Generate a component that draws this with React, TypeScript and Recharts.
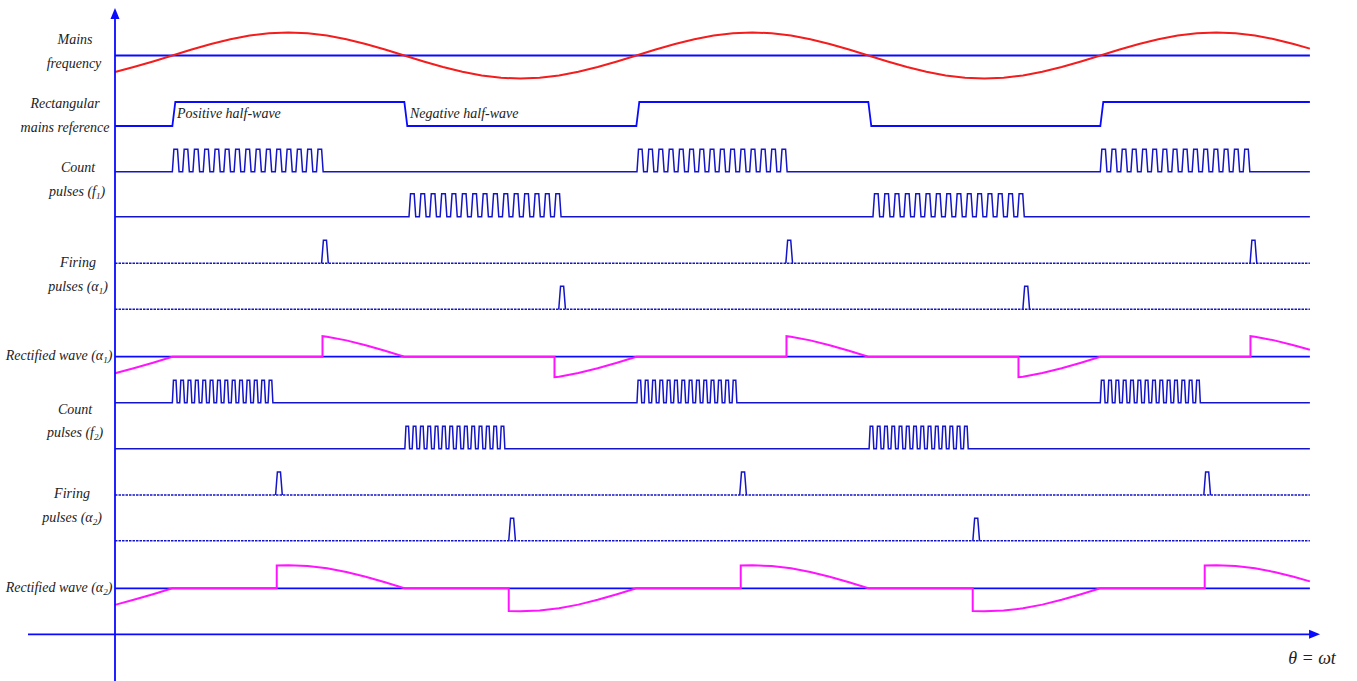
import { LineChart, Line, XAxis, YAxis, ReferenceDot } from "recharts";

// θ in degrees, 0 = first rising zero crossing of the mains
const viewStart = -44.5;
const viewEnd = 882.6;

// mains wave, normalised, read every 15° over one cycle
const mainsCycle = [
  0, 0.26, 0.5, 0.71, 0.87, 0.97, 1, 0.97, 0.87, 0.71, 0.5, 0.26,
  0, -0.26, -0.5, -0.71, -0.87, -0.97, -1, -0.97, -0.87, -0.71, -0.5, -0.26,
];
const mainsAtStart = -0.72;
const mainsAtEnd = 0.3;

// rectangular mains reference switches at the zero crossings
const halfWaveEdges = [0, 180, 360, 540, 720];

// count pulse bursts [from, to] in degrees
const f1BurstsPos = [[0, 117], [360.5, 477], [720, 836]];
const f1BurstsNeg = [[183.6, 301.6], [543.6, 661]];
const f1PulseCount = 15;
const f2BurstsPos = [[0, 78], [360.5, 438], [720, 797.6]];
const f2BurstsNeg = [[180.4, 258], [540.6, 617.5]];
const f2PulseCount = 14;

// firing pulse centres in degrees
const alpha1FiringPos = [118.4, 478.6, 838.8];
const alpha1FiringNeg = [302.4, 662.5];
const alpha2FiringPos = [82.7, 442.8, 802.9];
const alpha2FiringNeg = [263.6, 623.7];

// firing angles of the rectified waves and the jump at firing (normalised)
const alpha1 = 116.5;
const alpha1Jump = 0.89;
const alpha2 = 81;
const alpha2Jump = 0.99;

// layout: pixel rows of each trace (y axis runs in page pixels)
const rows = {
  mains: { base: 55.5, amp: 23 },
  rect: { low: 126, high: 102 },
  f1Pos: { base: 171.7, amp: 22.5 },
  f1Neg: { base: 216.8, amp: 23 },
  a1Pos: { base: 263.3, amp: 23 },
  a1Neg: { base: 309.3, amp: 23 },
  rect1: { base: 356.7, amp: 23 },
  f2Pos: { base: 402.7, amp: 22.5 },
  f2Neg: { base: 448.8, amp: 22.5 },
  a2Pos: { base: 495, amp: 23 },
  a2Neg: { base: 540.7, amp: 22.5 },
  rect2: { base: 588.3, amp: 23 },
  axis: 634.3,
};

const BLUE = "#0a0aff";
const NAVY = "#1414c8";
const RED = "#f41c1c";
const MAGENTA = "#ff14ff";

type Pt = { x: number; y: number };
type Pair = [number, number];

const toPts = (pairs: Pair[], base: number, amp: number): Pt[] =>
  pairs.map(([t, v]) => ({ x: t, y: base - amp * v }));

function mainsSamples(): Pair[] {
  const out: Pair[] = [[viewStart, mainsAtStart]];
  for (let t = -30; t < viewEnd; t += 15) {
    const i = (((t % 360) + 360) % 360) / 15;
    out.push([t, mainsCycle[i]]);
  }
  out.push([viewEnd, mainsAtEnd]);
  return out;
}

function rectifiedSamples(alpha: number, jump: number): Pair[] {
  const out: Pair[] = [];
  let k = Math.floor(viewStart / 180);
  for (const [t, v] of mainsSamples()) {
    while (k * 180 + alpha < t) {
      const f = k * 180 + alpha;
      if (f > viewStart) {
        const sign = ((k % 2) + 2) % 2 === 0 ? 1 : -1;
        out.push([f, 0], [f, sign * jump]);
      }
      k++;
    }
    const phase = ((t % 180) + 180) % 180;
    out.push([t, phase >= alpha ? v : 0]);
  }
  return out;
}

function rectangular(): Pt[] {
  let high = false;
  const lvl = () => (high ? rows.rect.high : rows.rect.low);
  const out: Pt[] = [{ x: viewStart, y: lvl() }];
  for (const e of halfWaveEdges) {
    out.push({ x: e, y: lvl() });
    high = !high;
    out.push({ x: e + 2.3, y: lvl() });
  }
  out.push({ x: viewEnd, y: lvl() });
  return out;
}

function pulseTrain(bursts: number[][], count: number, base: number, amp: number): Pt[] {
  const out: Pt[] = [{ x: viewStart, y: base }];
  for (const [s, e] of bursts) {
    const p = (e - s) / (count - 0.35);
    for (let i = 0; i < count; i++) {
      const t0 = s + i * p;
      out.push(
        { x: t0, y: base },
        { x: t0 + 0.15 * p, y: base - amp },
        { x: t0 + 0.5 * p, y: base - amp },
        { x: t0 + 0.65 * p, y: base }
      );
    }
  }
  out.push({ x: viewEnd, y: base });
  return out;
}

// one small solid pulse per firing centre, drawn over a dotted baseline
const firingPulse = (c: number, base: number, amp: number): Pt[] => [
  { x: c - 2.6, y: base },
  { x: c - 1.2, y: base - amp },
  { x: c + 1.2, y: base - amp },
  { x: c + 2.6, y: base },
];

const flat = (y: number, from = viewStart, to = viewEnd): Pt[] => [
  { x: from, y },
  { x: to, y },
];

type Trace = { id: string; data: Pt[]; color: string; width: number; dash?: string };

const firingTraces = (id: string, centres: number[], base: number, amp: number): Trace[] => [
  { id: id + "Base", data: flat(base), color: NAVY, width: 1.6, dash: "2.5 1" },
  ...centres.map((c, i) => ({ id: id + i, data: firingPulse(c, base, amp), color: NAVY, width: 1.5 })),
];

const traces: Trace[] = [
  { id: "mainsBase", data: flat(rows.mains.base), color: BLUE, width: 1.8 },
  { id: "mains", data: toPts(mainsSamples(), rows.mains.base, rows.mains.amp), color: RED, width: 2 },
  { id: "rect", data: rectangular(), color: BLUE, width: 1.8 },
  { id: "f1Pos", data: pulseTrain(f1BurstsPos, f1PulseCount, rows.f1Pos.base, rows.f1Pos.amp), color: NAVY, width: 1.5 },
  { id: "f1Neg", data: pulseTrain(f1BurstsNeg, f1PulseCount, rows.f1Neg.base, rows.f1Neg.amp), color: NAVY, width: 1.5 },
  ...firingTraces("a1Pos", alpha1FiringPos, rows.a1Pos.base, rows.a1Pos.amp),
  ...firingTraces("a1Neg", alpha1FiringNeg, rows.a1Neg.base, rows.a1Neg.amp),
  { id: "rect1Base", data: flat(rows.rect1.base), color: BLUE, width: 1.8 },
  { id: "rect1", data: toPts(rectifiedSamples(alpha1, alpha1Jump), rows.rect1.base, rows.rect1.amp), color: MAGENTA, width: 2 },
  { id: "f2Pos", data: pulseTrain(f2BurstsPos, f2PulseCount, rows.f2Pos.base, rows.f2Pos.amp), color: NAVY, width: 1.5 },
  { id: "f2Neg", data: pulseTrain(f2BurstsNeg, f2PulseCount, rows.f2Neg.base, rows.f2Neg.amp), color: NAVY, width: 1.5 },
  ...firingTraces("a2Pos", alpha2FiringPos, rows.a2Pos.base, rows.a2Pos.amp),
  ...firingTraces("a2Neg", alpha2FiringNeg, rows.a2Neg.base, rows.a2Neg.amp),
  { id: "rect2Base", data: flat(rows.rect2.base), color: BLUE, width: 1.8 },
  { id: "rect2", data: toPts(rectifiedSamples(alpha2, alpha2Jump), rows.rect2.base, rows.rect2.amp), color: MAGENTA, width: 2 },
  { id: "yAxis", data: [{ x: viewStart, y: 16 }, { x: viewStart, y: 681 }], color: BLUE, width: 1.8 },
  { id: "xAxis", data: flat(rows.axis, -112, 884), color: BLUE, width: 1.8 },
];

const labelFont: React.CSSProperties = {
  position: "absolute",
  fontFamily: "'Liberation Serif', 'DejaVu Serif', serif",
  fontStyle: "italic",
  fontSize: 14,
  color: "#222",
  whiteSpace: "nowrap",
  lineHeight: 1,
};

const Txt = ({ x, y, left, size, children }: { x: number; y: number; left?: boolean; size?: number; children: React.ReactNode }) => (
  <div
    style={{
      ...labelFont,
      left: x,
      top: y,
      fontSize: size ?? 14,
      transform: left ? "translate(0,-50%)" : "translate(-50%,-50%)",
    }}
  >
    {children}
  </div>
);

const Sub = ({ children }: { children: React.ReactNode }) => (
  <sub style={{ fontSize: 9, verticalAlign: "-3px", lineHeight: 0 }}>{children}</sub>
);

const UpArrow = (p: any) => (
  <polygon points={`${p.cx},${p.cy} ${p.cx - 4.5},${p.cy + 11} ${p.cx + 4.5},${p.cy + 11}`} fill={BLUE} />
);
const RightArrow = (p: any) => (
  <polygon points={`${p.cx},${p.cy} ${p.cx - 11},${p.cy - 4.5} ${p.cx - 11},${p.cy + 4.5}`} fill={BLUE} />
);

export default function App() {
  return (
    <div style={{ position: "absolute", left: 0, top: 0, width: 1357, height: 681, background: "#fff" }}>
      <LineChart width={1357} height={681} margin={{ top: 0, right: 35, bottom: 0, left: 28 }}>
        <XAxis type="number" dataKey="x" domain={[-112, 892]} hide allowDataOverflow />
        <YAxis type="number" dataKey="y" domain={[0, 681]} reversed hide allowDataOverflow />
        {traces.map((t) => (
          <Line
            key={t.id}
            data={t.data}
            dataKey="y"
            type="linear"
            stroke={t.color}
            strokeWidth={t.width}
            strokeDasharray={t.dash}
            dot={false}
            activeDot={false}
            isAnimationActive={false}
          />
        ))}
        <ReferenceDot x={viewStart} y={8} shape={UpArrow} ifOverflow="visible" />
        <ReferenceDot x={890.5} y={rows.axis} shape={RightArrow} ifOverflow="visible" />
      </LineChart>

      <Txt x={75} y={40}>Mains</Txt>
      <Txt x={74} y={64}>frequency</Txt>
      <Txt x={65} y={104}>Rectangular</Txt>
      <Txt x={65} y={128}>mains reference</Txt>
      <Txt x={78} y={168}>Count</Txt>
      <Txt x={77} y={192}>pulses (f<Sub>1</Sub>)</Txt>
      <Txt x={78} y={263}>Firing</Txt>
      <Txt x={78} y={287}>pulses (α<Sub>1</Sub>)</Txt>
      <Txt x={59} y={356}>Rectified wave (α<Sub>1</Sub>)</Txt>
      <Txt x={75} y={410}>Count</Txt>
      <Txt x={75} y={433}>pulses (f<Sub>2</Sub>)</Txt>
      <Txt x={72} y={494}>Firing</Txt>
      <Txt x={72} y={518}>pulses (α<Sub>2</Sub>)</Txt>
      <Txt x={59} y={588}>Rectified wave (α<Sub>2</Sub>)</Txt>
      <Txt x={177} y={114} left>Positive half-wave</Txt>
      <Txt x={410} y={114} left>Negative half-wave</Txt>
      <Txt x={1312} y={658} size={18}>θ = ωt</Txt>
    </div>
  );
}
